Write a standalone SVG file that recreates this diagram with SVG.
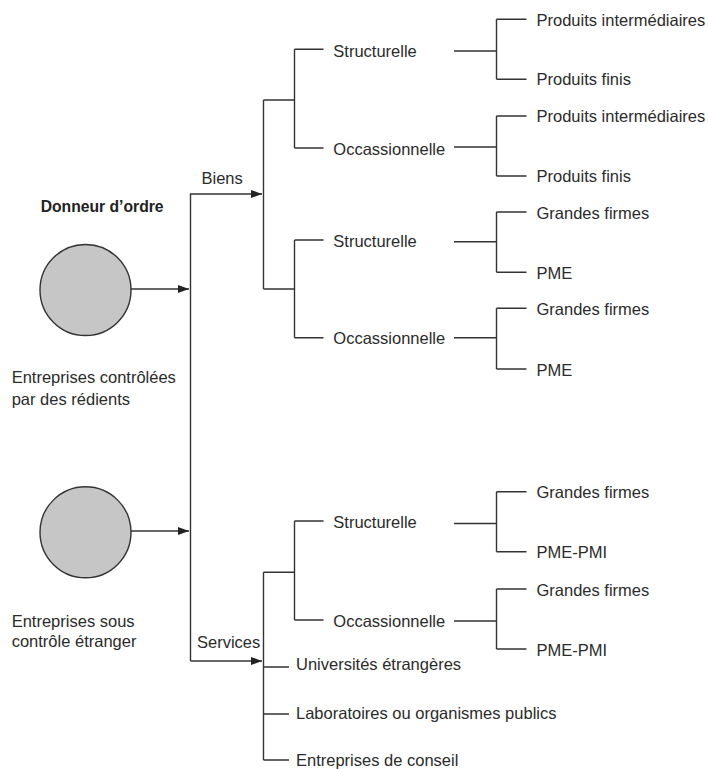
<svg xmlns="http://www.w3.org/2000/svg" width="708" height="769" viewBox="0 0 708 769">
<style>
.t{font-family:"Liberation Sans",Arial,sans-serif;font-size:16.5px;fill:#2b2b2b}
.b{font-family:"Liberation Sans",Arial,sans-serif;font-size:15.7px;font-weight:bold;fill:#222}
.l{fill:none;stroke:#333;stroke-width:1.4}
.c{fill:#c6c6c6;stroke:#333;stroke-width:1.4}
</style>
<defs>
<marker id="ah" markerWidth="12" markerHeight="8" refX="11" refY="4" orient="auto" markerUnits="userSpaceOnUse">
<path d="M0,0 L11,4 L0,8 Z" fill="#222"/>
</marker>
</defs>
<rect width="708" height="769" fill="#fff"/>
<g id="connectors" class="l">
<path d="M131,289 H189" marker-end="url(#ah)"/>
<path d="M131,531 H189" marker-end="url(#ah)"/>
<path d="M190.5,661 V194 H262" marker-end="url(#ah)"/>
<path d="M190.5,661 H262" marker-end="url(#ah)"/>
<path d="M263.5,100 V289"/>
<path d="M263.5,100 H294.5 M263.5,289 H294.5"/>
<path d="M294.5,49.3 V148 M294.5,49.3 H323.5 M294.5,148 H323.5"/>
<path d="M294.5,240 V337.7 M294.5,240 H323.5 M294.5,337.7 H323.5"/>
<path d="M454,51 H496.5 M496.5,19.3 V79.3 M496.5,19.3 H526.5 M496.5,79.3 H526.5"/>
<path d="M454,147 H496.5 M496.5,116 V176 M496.5,116 H526.5 M496.5,176 H526.5"/>
<path d="M454,241.7 H496.5 M496.5,212 V272.3 M496.5,212 H526.5 M496.5,272.3 H526.5"/>
<path d="M454,337.7 H496.5 M496.5,308.3 V369 M496.5,308.3 H526.5 M496.5,369 H526.5"/>
<path d="M263.5,572.3 V760 M263.5,572.3 H294.5"/>
<path d="M294.5,521 V620 M294.5,521 H323.5 M294.5,620 H323.5"/>
<path d="M454,523.5 H496.5 M496.5,491.7 V551.7 M496.5,491.7 H526.5 M496.5,551.7 H526.5"/>
<path d="M454,621 H496.5 M496.5,589 V649 M496.5,589 H526.5 M496.5,649 H526.5"/>
<path d="M263.5,667 H289 M263.5,714 H289 M263.5,760 H289"/>
</g>
<g id="donneur"><text class="b" x="40.7" y="211.7">Donneur d’ordre</text></g>
<g id="circle-residents">
<circle class="c" cx="85.5" cy="290" r="45.5"/>
<text class="t" x="11.7" y="383.3">Entreprises contrôlées</text>
<text class="t" x="11.7" y="404.5">par des rédients</text>
</g>
<g id="circle-etranger">
<circle class="c" cx="85.5" cy="532.3" r="45.5"/>
<text class="t" x="11.7" y="626.5">Entreprises sous</text>
<text class="t" x="11.7" y="647">contrôle étranger</text>
</g>
<g id="biens"><text class="t" x="201.5" y="184">Biens</text></g>
<g id="services"><text class="t" x="197" y="647.5">Services</text></g>
<g id="biens-structurelle-1"><text class="t" x="333.3" y="56.7">Structurelle</text></g>
<g id="biens-occ-1"><text class="t" x="333.3" y="154.5">Occassionnelle</text></g>
<g id="biens-structurelle-2"><text class="t" x="333.3" y="247">Structurelle</text></g>
<g id="biens-occ-2"><text class="t" x="333.3" y="344">Occassionnelle</text></g>
<g id="serv-structurelle"><text class="t" x="333.3" y="527.5">Structurelle</text></g>
<g id="serv-occ"><text class="t" x="333.3" y="626.5">Occassionnelle</text></g>
<g id="leaf-pi1"><text class="t" x="536.5" y="26">Produits intermédiaires</text></g>
<g id="leaf-pf1"><text class="t" x="536.5" y="84.5">Produits finis</text></g>
<g id="leaf-pi2"><text class="t" x="536.5" y="122">Produits intermédiaires</text></g>
<g id="leaf-pf2"><text class="t" x="536.5" y="182">Produits finis</text></g>
<g id="leaf-gf1"><text class="t" x="536.5" y="218.5">Grandes firmes</text></g>
<g id="leaf-pme1"><text class="t" x="536.5" y="278.5">PME</text></g>
<g id="leaf-gf2"><text class="t" x="536.5" y="315">Grandes firmes</text></g>
<g id="leaf-pme2"><text class="t" x="536.5" y="375.5">PME</text></g>
<g id="leaf-gf3"><text class="t" x="536.5" y="498">Grandes firmes</text></g>
<g id="leaf-pmepmi1"><text class="t" x="536.5" y="558">PME-PMI</text></g>
<g id="leaf-gf4"><text class="t" x="536.5" y="595.5">Grandes firmes</text></g>
<g id="leaf-pmepmi2"><text class="t" x="536.5" y="655.5">PME-PMI</text></g>
<g id="universites"><text class="t" x="296" y="669.5">Universités étrangères</text></g>
<g id="laboratoires"><text class="t" x="296" y="718.5">Laboratoires ou organismes publics</text></g>
<g id="conseil"><text class="t" x="296" y="766">Entreprises de conseil</text></g>
</svg>
